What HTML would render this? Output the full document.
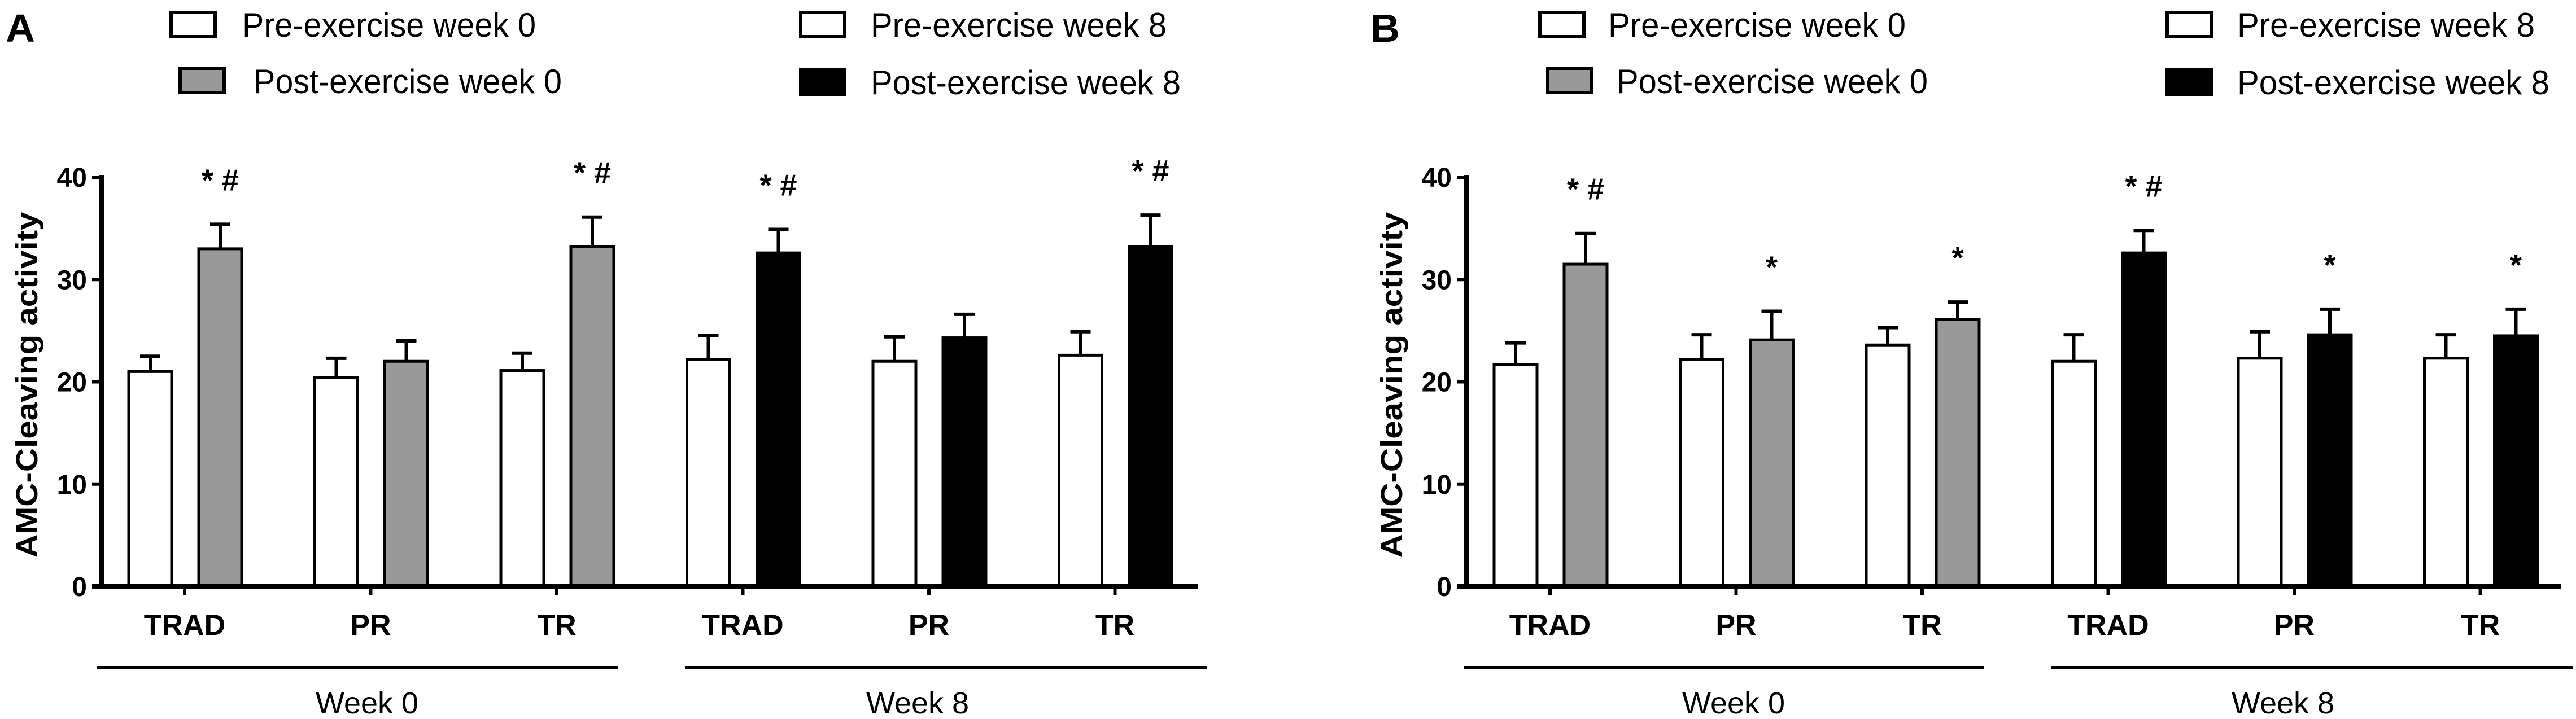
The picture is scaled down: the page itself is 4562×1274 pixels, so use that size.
<!DOCTYPE html>
<html><head><meta charset="utf-8"><style>
html,body{margin:0;padding:0;background:#fff;}
svg{display:block;font-family:"Liberation Sans",Arial,sans-serif;}
</style></head><body>
<svg id="chart" width="4562" height="1274" viewBox="0 0 4562 1274" xmlns="http://www.w3.org/2000/svg"></svg>
<script>
const categories = ["TRAD","PR","TR","TRAD","PR","TR"];
const weeks = ["Week 0","Week 8"];
const yTicks = [0,10,20,30,40];
const preA = [21.0,20.4,21.1,22.2,22.0,22.6];
const preErrA = [1.5,1.9,1.7,2.3,2.4,2.3];
const postA = [33.0,22.0,33.2,32.6,24.3,33.2];
const postErrA = [2.4,2.0,2.9,2.3,2.3,3.1];
const annotA = ["* #","","* #","* #","","* #"];
const preB = [21.7,22.2,23.6,22.0,22.3,22.3];
const preErrB = [2.1,2.4,1.7,2.6,2.6,2.3];
const postB = [31.5,24.1,26.1,32.6,24.6,24.5];
const postErrB = [3.0,2.8,1.7,2.2,2.5,2.6];
const annotB = ["* #","*","*","* #","*","*"];

const svg = document.getElementById('chart');
const NS = "http://www.w3.org/2000/svg";
function mk(tag, attrs, parent){
  const e = document.createElementNS(NS, tag);
  for (const k in attrs) e.setAttribute(k, attrs[k]);
  (parent||svg).appendChild(e);
  return e;
}
function panel(cfg){
  const g = mk('g', {});
  
  
  const y0 = 1039, y40 = 314;
  const yScale = v => y0 - (v/40)*(y0-y40);
  const gx = i => cfg.tick0 + i*cfg.step;
  const bw = 76;
  const L = mk('text', {x:cfg.letterX, y:74, 'font-size':70, 'font-weight':'bold', textLength:52, lengthAdjust:'spacingAndGlyphs'}, g);
  L.textContent = cfg.letter;
  
  
  const leg = [
    {bx:cfg.lg[0], by:22, tx:cfg.lg[1], ty:65, tl:cfg.lg[2], fill:'#fff', t:'Pre-exercise week 0'},
    {bx:cfg.lg[3], by:121, tx:cfg.lg[4], ty:165, tl:cfg.lg[5], fill:'#999', t:'Post-exercise week 0'},
    {bx:cfg.lg[6], by:22, tx:cfg.lg[7], ty:65, tl:cfg.lg[8], fill:'#fff', t:'Pre-exercise week 8'},
    {bx:cfg.lg[6], by:124, tx:cfg.lg[7], ty:167, tl:cfg.lg[9], fill:'#000', t:'Post-exercise week 8'}
  ];
  leg.forEach(l=>{
    const r = mk('rect', {x:l.bx, y:l.by, width:78, height:43, fill:l.fill, stroke:'#000', 'stroke-width':6}, g);
    
    
    const t = mk('text', {x:l.tx, y:l.ty, 'font-size':60, textLength:l.tl, lengthAdjust:'spacingAndGlyphs'}, g);
    t.textContent = l.t;
    
    
  });
  for (let i=0;i<categories.length;i++){
    const c = gx(i);
    const preX = c - 99, postX = c + 25;
    const series = [
      {x:preX, v:cfg.pre[i], e:cfg.preErr[i], fill:'#fff', n:'bar-pre-'},
      {x:postX, v:cfg.post[i], e:cfg.postErr[i], fill: i<3 ? '#999' : '#000', n:'bar-post-'}
    ];
    series.forEach(s=>{
      const top = yScale(s.v), et = yScale(s.v+s.e);
      const cx = s.x + bw/2;
      const el = mk('line', {x1:cx, x2:cx, y1:top, y2:et, stroke:'#000', 'stroke-width':6}, g);
      
      
      const cap = mk('line', {x1:cx-18, x2:cx+18, y1:et, y2:et, stroke:'#000', 'stroke-width':6}, g);
      
      
      const b = mk('rect', {x:s.x, y:top, width:bw, height:y0-top, fill:s.fill, stroke:'#000', 'stroke-width':5}, g);
      
      
    });
    if (cfg.annot[i]){
      const a = mk('text', {x:postX+bw/2, y:yScale(cfg.post[i]+cfg.postErr[i])-60, 'font-size':54, 'font-weight':'bold', 'text-anchor':'middle', 'xml:space':'preserve'}, g);
      a.textContent = cfg.annot[i];
      
      
    }
    const tk = mk('line', {x1:c, x2:c, y1:y0, y2:y0+16, stroke:'#000', 'stroke-width':6}, g);
    
    
    const xl = mk('text', {x:c, y:1125, 'font-size':52, 'font-weight':'bold', 'text-anchor':'middle'}, g);
    xl.textContent = categories[i];
    
    
  }
  const ya = mk('line', {x1:cfg.axisX, x2:cfg.axisX, y1:y40-4, y2:y0, stroke:'#000', 'stroke-width':8}, g);
  
  
  const xa = mk('line', {x1:cfg.axisX-17, x2:cfg.axisEnd, y1:y0, y2:y0, stroke:'#000', 'stroke-width':8}, g);
  
  
  yTicks.forEach(v=>{
    const y = yScale(v);
    const t = mk('line', {x1:cfg.axisX-17, x2:cfg.axisX, y1:y, y2:y, stroke:'#000', 'stroke-width':6}, g);
    
    
    const tl = mk('text', {x:cfg.axisX-26, y:y+17, 'font-size':48, 'font-weight':'bold', 'text-anchor':'end'}, g);
    tl.textContent = v;
    
    
  });
  const yt = mk('text', {x:0, y:0, 'font-size':54, 'font-weight':'bold', 'text-anchor':'middle', textLength:613, lengthAdjust:'spacingAndGlyphs', transform:`translate(${cfg.axisX-114},682) rotate(-90)`}, g);
  yt.textContent = 'AMC-Cleaving activity';
  
  
  cfg.brackets.forEach((br, k)=>{
    const ln = mk('line', {x1:br[0], x2:br[1], y1:1183, y2:1183, stroke:'#000', 'stroke-width':6}, g);
    
    
    const wt = mk('text', {x:br[2], y:1264, 'font-size':54, 'text-anchor':'middle'}, g);
    wt.textContent = weeks[k];
    
    
  });
}
panel({letter:'A', letterX:10, axisX:180, axisEnd:2122, tick0:327, step:329.5,
  pre:preA, preErr:preErrA, post:postA, postErr:postErrA, annot:annotA,
  lg:[303,429,520,319,449,546,1418,1542,524,549],
  brackets:[[172,1094,650],[1213,2137,1625]]});
panel({letter:'B', letterX:2427, axisX:2597, axisEnd:4535, tick0:2745, step:329.5,
  pre:preB, preErr:preErrB, post:postB, postErr:postErrB, annot:annotB,
  lg:[2727,2848,527,2741,2863,551,3838,3962,527,553],
  brackets:[[2592,3513,3070],[3633,4557,4043]]});
</script>
</body></html>
